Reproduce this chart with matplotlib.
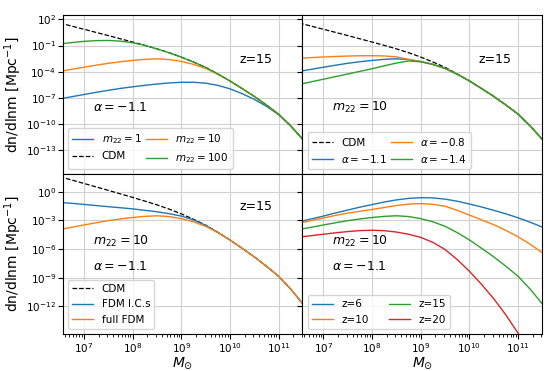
import numpy as np
import matplotlib
matplotlib.use("Agg")
import matplotlib.pyplot as plt

# log10 of halo mass grid (M_sun)
logM = [6.5, 6.75, 7.0, 7.25, 7.5, 7.75, 8.0, 8.25, 8.5, 8.75, 9.0,
        9.25, 9.5, 9.75, 10.0, 10.25, 10.5, 10.75, 11.0, 11.25, 11.5]

# log10 dn/dlnm  [Mpc^-1]
cdm = [1.58, 1.22, 0.86, 0.50, 0.14, -0.23, -0.60, -0.98, -1.38, -1.82, -2.32,
       -2.88, -3.50, -4.25, -5.05, -5.92, -6.82, -7.80, -8.85, -10.20, -11.75]
m22_1 = [-7.10, -6.85, -6.60, -6.35, -6.12, -5.90, -5.72, -5.55, -5.40, -5.28, -5.20,
         -5.20, -5.30, -5.55, -5.95, -6.50, -7.15, -7.95, -8.90, -10.22, -11.75]
m22_10 = [-3.95, -3.72, -3.48, -3.25, -3.03, -2.85, -2.70, -2.58, -2.52, -2.60, -2.82,
          -3.15, -3.62, -4.28, -5.05, -5.92, -6.82, -7.80, -8.85, -10.20, -11.75]
m22_100 = [-0.82, -0.66, -0.52, -0.44, -0.42, -0.50, -0.68, -0.98, -1.38, -1.83, -2.33,
           -2.88, -3.50, -4.25, -5.05, -5.92, -6.82, -7.80, -8.85, -10.20, -11.75]

alpha_08 = [-2.45, -2.38, -2.31, -2.25, -2.20, -2.17, -2.16, -2.19, -2.30, -2.58, -2.85,
            -3.17, -3.62, -4.28, -5.05, -5.92, -6.82, -7.80, -8.85, -10.20, -11.75]
alpha_14 = [-5.45, -5.15, -4.85, -4.55, -4.25, -3.95, -3.65, -3.32, -3.00, -2.76, -2.86,
            -3.16, -3.62, -4.28, -5.05, -5.92, -6.82, -7.80, -8.85, -10.20, -11.75]

fdm_ics = [-1.12, -1.22, -1.33, -1.45, -1.57, -1.68, -1.80, -1.95, -2.10, -2.30, -2.55,
           -2.95, -3.52, -4.26, -5.05, -5.92, -6.82, -7.80, -8.85, -10.20, -11.75]

z6 = [-3.15, -2.85, -2.55, -2.22, -1.92, -1.62, -1.35, -1.08, -0.86, -0.70, -0.63,
      -0.65, -0.78, -1.00, -1.29, -1.60, -1.95, -2.32, -2.73, -3.20, -3.71]
z10 = [-3.30, -3.02, -2.75, -2.48, -2.24, -2.05, -1.86, -1.65, -1.45, -1.30, -1.24,
       -1.32, -1.52, -1.95, -2.45, -2.95, -3.45, -4.05, -4.72, -5.50, -6.40]
z15 = m22_10
z20 = [-4.75, -4.60, -4.45, -4.30, -4.17, -4.07, -4.03, -4.08, -4.22, -4.45, -4.78,
       -5.30, -6.05, -7.10, -8.33, -9.70, -11.20, -12.90, -14.80, -17.00, -19.50]

yticks_top = [1e2, 1e-1, 1e-4, 1e-7, 1e-10, 1e-13]
yticks_bot = [1e0, 1e-3, 1e-6, 1e-9, 1e-12]
xticks = [1e7, 1e8, 1e9, 1e10, 1e11]

M = 10 ** np.array(logM)
def v(a):
    return 10 ** np.array(a)

fig, axes = plt.subplots(2, 2, figsize=(5.48, 3.71), dpi=100, sharex=True)
fig.subplots_adjust(left=0.115, right=0.989, top=0.96, bottom=0.1, wspace=0, hspace=0)
(ax1, ax2), (ax3, ax4) = axes

lw = 1.0
C = ['#1f77b4', '#ff7f0e', '#2ca02c', '#d62728']
tfs = 9
lfs = 7.5

# top-left
ax1.plot(M, v(m22_1), color=C[0], lw=lw, label='$m_{22}=1$')
ax1.plot(M, v(cdm), 'k--', lw=0.9, label='CDM')
ax1.plot(M, v(m22_10), color=C[1], lw=lw, label='$m_{22}=10$')
ax1.plot(M, v(m22_100), color=C[2], lw=lw, label='$m_{22}=100$')
ax1.legend(loc='lower left', ncol=2, fontsize=lfs, columnspacing=0.4)
ax1.text(0.737, 0.72, 'z=15', transform=ax1.transAxes, fontsize=tfs, va='center')
ax1.text(0.125, 0.42, r'$\alpha=-1.1$', transform=ax1.transAxes, fontsize=tfs, va='center')

# top-right
ax2.plot(M, v(cdm), 'k--', lw=0.9, label='CDM')
ax2.plot(M, v(m22_10), color=C[0], lw=lw, label=r'$\alpha=-1.1$')
ax2.plot(M, v(alpha_08), color=C[1], lw=lw, label=r'$\alpha=-0.8$')
ax2.plot(M, v(alpha_14), color=C[2], lw=lw, label=r'$\alpha=-1.4$')
ax2.legend(loc='lower left', ncol=2, fontsize=lfs, columnspacing=0.4)
ax2.text(0.733, 0.72, 'z=15', transform=ax2.transAxes, fontsize=tfs, va='center')
ax2.text(0.125, 0.42, '$m_{22}=10$', transform=ax2.transAxes, fontsize=tfs, va='center')

# bottom-left
ax3.plot(M, v(cdm), 'k--', lw=0.9, label='CDM')
ax3.plot(M, v(fdm_ics), color=C[0], lw=lw, label='FDM I.C.s')
ax3.plot(M, v(m22_10), color=C[1], lw=lw, label='full FDM')
ax3.legend(loc='lower left', fontsize=lfs)
ax3.text(0.737, 0.8, 'z=15', transform=ax3.transAxes, fontsize=tfs, va='center')
ax3.text(0.125, 0.58, '$m_{22}=10$', transform=ax3.transAxes, fontsize=tfs, va='center')
ax3.text(0.125, 0.42, r'$\alpha=-1.1$', transform=ax3.transAxes, fontsize=tfs, va='center')

# bottom-right
ax4.plot(M, v(z6), color=C[0], lw=lw, label='z=6')
ax4.plot(M, v(z10), color=C[1], lw=lw, label='z=10')
ax4.plot(M, v(z15), color=C[2], lw=lw, label='z=15')
ax4.plot(M, v(z20), color=C[3], lw=lw, label='z=20')
ax4.legend(loc='lower left', ncol=2, fontsize=lfs)
ax4.text(0.125, 0.58, '$m_{22}=10$', transform=ax4.transAxes, fontsize=tfs, va='center')
ax4.text(0.125, 0.42, r'$\alpha=-1.1$', transform=ax4.transAxes, fontsize=tfs, va='center')

for ax in axes.flat:
    ax.set_xscale('log')
    ax.set_yscale('log')
    ax.set_xlim(10 ** 6.57, 10 ** 11.49)
    ax.set_xticks(xticks)
    ax.grid(True, which='major', color='#d0d0d0', lw=0.8)
    ax.tick_params(labelsize=7.5, pad=1.5)
for ax in (ax1, ax2):
    ax.set_ylim(10 ** -15.73, 10 ** 2.51)
    ax.set_yticks(yticks_top)
    ax.yaxis.set_minor_locator(matplotlib.ticker.NullLocator())
for ax in (ax3, ax4):
    ax.set_ylim(10 ** -14.87, 10 ** 1.81)
    ax.set_yticks(yticks_bot)
    ax.yaxis.set_minor_locator(matplotlib.ticker.NullLocator())
    ax.set_xlabel(r'$M_{\odot}$', fontsize=10)
    ax.xaxis.set_label_coords(0.5, -0.135)
for ax in (ax2, ax4):
    ax.tick_params(labelleft=False)
for ax in (ax1, ax2):
    ax.tick_params(labelbottom=False)
ax1.set_ylabel(r'dn/dlnm [Mpc$^{-1}$]', fontsize=10)
ax3.set_ylabel(r'dn/dlnm [Mpc$^{-1}$]', fontsize=10)
ax1.yaxis.set_label_coords(-0.165, 0.5)
ax3.yaxis.set_label_coords(-0.165, 0.5)

fig.savefig('out.png', dpi=100)
